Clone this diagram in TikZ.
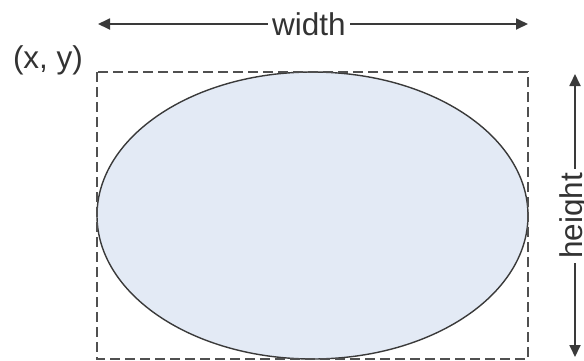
\documentclass[tikz,border=0pt]{standalone}
\usepackage{fontspec}
\setmainfont{Liberation Sans}
\usetikzlibrary{arrows.meta,shapes.geometric}
\definecolor{fillblue}{HTML}{E3EAF5}
\definecolor{linegray}{HTML}{3A3A3A}
\definecolor{dashgray}{HTML}{505050}
\begin{document}
\begin{tikzpicture}[x=1pt,y=-1pt,
  dimarrow/.style={draw=linegray,line width=1.8pt,{Triangle[length=12pt,width=11pt]}-{Triangle[length=12pt,width=11pt]}},
  lbl/.style={font=\fontsize{31.5}{36}\selectfont,text=black!80,inner sep=4pt,fill=white},
  dashbox/.style={draw=dashgray,line width=2pt,dash pattern=on 10pt off 5pt},
  shapeell/.style={draw=linegray,line width=1.4pt,fill=fillblue}]
\useasboundingbox (0,0) rectangle (584,360);
\coordinate (tl) at (97,72);
\coordinate (br) at (528,359);
\node[shapeell,ellipse,minimum width=431pt,minimum height=287pt,inner sep=0pt] (ell) at (312.5,215.5) {};
\draw[dashbox] (tl) rectangle (br);
\coordinate (wl) at (98,24);
\coordinate (wr) at (528,24);
\draw[dimarrow] (wl) -- (wr);
\node[lbl] (wlab) at (309,24) {width};
\coordinate (ht) at (575,74);
\coordinate (hb) at (575,357);
\draw[dimarrow] (ht) -- (hb);
\node[lbl,rotate=90] (hlab) at (574,216) {height};
\node[lbl,fill=none] (xy) at (48,60) {(x, y)};
\end{tikzpicture}
\end{document}
